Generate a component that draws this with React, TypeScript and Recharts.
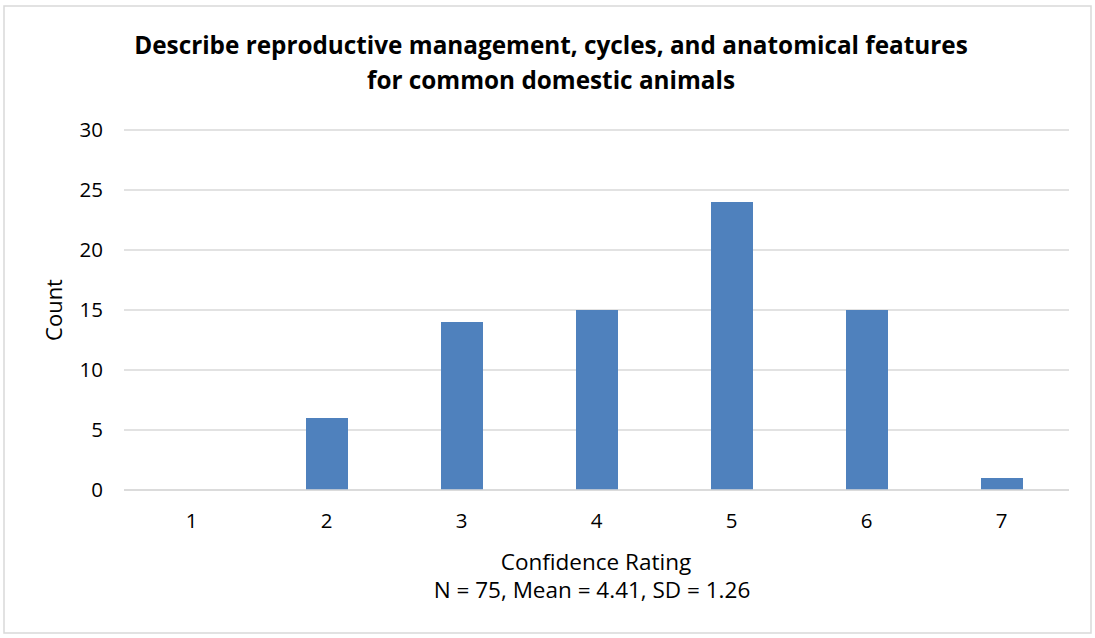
import { BarChart, Bar, XAxis, YAxis, CartesianGrid } from 'recharts';

const ratings = ['1', '2', '3', '4', '5', '6', '7'];
const counts = [0, 6, 14, 15, 24, 15, 1];
const yTicks = [0, 5, 10, 15, 20, 25, 30];
const titleLines = [
  'Describe reproductive management, cycles, and anatomical features',
  'for common domestic animals',
];
const xTitle = 'Confidence Rating';
const subtitle = 'N = 75, Mean = 4.41, SD = 1.26';
const yTitle = 'Count';

const data = ratings.map((r, i) => ({ rating: r, count: counts[i] }));

const FONT = '"Open Sans", Lato, sans-serif';
const W = 1095;
const H = 638;

export default function App() {
  return (
    <div style={{ position: 'absolute', left: 0, top: 0, width: W, height: H, background: '#fff', fontFamily: FONT }}>
      <BarChart
        width={W}
        height={H}
        data={data}
        margin={{ top: 130, right: 26, bottom: 0, left: 64 }}
      >
        <CartesianGrid vertical={false} stroke="#d9d9d9" strokeWidth={1.5} />
        <XAxis
          dataKey="rating"
          height={148}
          tickLine={false}
          axisLine={{ stroke: '#d9d9d9', strokeWidth: 1.5 }}
          tickSize={6}
          tickMargin={17}
          tick={{ fill: '#000', fontSize: 20.5, fontFamily: FONT }}
        />
        <YAxis
          width={60}
          domain={[0, 30]}
          ticks={yTicks}
          tickLine={false}
          axisLine={false}
          tickSize={6}
          tickMargin={15}
          tick={{ fill: '#000', fontSize: 20.5, fontFamily: FONT }}
        />
        <Bar dataKey="count" fill="#4f81bd" barSize={42} isAnimationActive={false} />
      </BarChart>
      <svg
        width={W}
        height={H}
        style={{ position: 'absolute', left: 0, top: 0, pointerEvents: 'none' }}
      >
        <rect x={4} y={6} width={1087} height={627} fill="none" stroke="#d9d9d9" strokeWidth={1.5} />
        {titleLines.map((t, i) => (
          <text
            key={t}
            x={551}
            y={54 + i * 35}
            textAnchor="middle"
            fontFamily={FONT}
            fontWeight={700}
            fontSize={24.3}
            fill="#000"
          >
            {t}
          </text>
        ))}
        <text
          transform="translate(62 310) rotate(-90)"
          textAnchor="middle"
          fontFamily={FONT}
          fontSize={22}
          fill="#000"
        >
          {yTitle}
        </text>
        <text x={596} y={570} textAnchor="middle" fontFamily={FONT} fontSize={22.5} fill="#000">
          {xTitle}
        </text>
        <text x={592} y={598} textAnchor="middle" fontFamily={FONT} fontSize={22.5} fill="#000">
          {subtitle}
        </text>
      </svg>
    </div>
  );
}
